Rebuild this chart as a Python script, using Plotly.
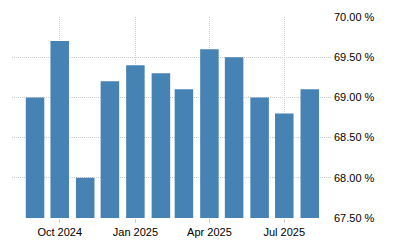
import plotly.graph_objects as go

months = ["2024-09-01", "2024-10-01", "2024-11-01", "2024-12-01", "2025-01-01", "2025-02-01",
          "2025-03-01", "2025-04-01", "2025-05-01", "2025-06-01", "2025-07-01", "2025-08-01"]
values = [69.0, 69.7, 68.0, 69.2, 69.4, 69.3, 69.1, 69.6, 69.5, 69.0, 68.8, 69.1]
x_tickvals = ["2024-10-01", "2025-01-01", "2025-04-01", "2025-07-01"]
x_ticktext = ["Oct 2024", "Jan 2025", "Apr 2025", "Jul 2025"]
y_tickvals = [67.5, 68.0, 68.5, 69.0, 69.5, 70.0]
y_ticktext = ["%.2f %%" % v for v in y_tickvals]

bar_width_ms = 22.5 * 86400000

fig = go.Figure(go.Bar(
    x=months, y=values,
    width=[bar_width_ms] * len(months),
    marker=dict(color="#4682B4", line=dict(width=0)),
))

fig.update_layout(
    width=400, height=250,
    margin=dict(l=12, r=68, t=17, b=32),
    paper_bgcolor="white", plot_bgcolor="white",
    showlegend=False,
    font=dict(family="Liberation Sans, Arial, sans-serif", size=11, color="#000000"),
    xaxis=dict(
        type="date",
        range=["2024-08-04", "2025-08-28"],
        tickvals=x_tickvals, ticktext=x_ticktext,
        showgrid=True, gridcolor="#cccccc", griddash="1px,1px", gridwidth=1,
        ticks="outside", ticklen=4, tickcolor="#cccccc",
        automargin=False,
        showline=False, zeroline=False,
    ),
    yaxis=dict(
        side="right",
        range=[67.5, 70.0],
        tickvals=y_tickvals, ticktext=y_ticktext,
        showgrid=True, gridcolor="#cccccc", griddash="1px,1px", gridwidth=1,
        ticks="", ticklabelstandoff=1, automargin=False,
        showline=False, zeroline=False,
    ),
)

fig.write_html("out.html")
